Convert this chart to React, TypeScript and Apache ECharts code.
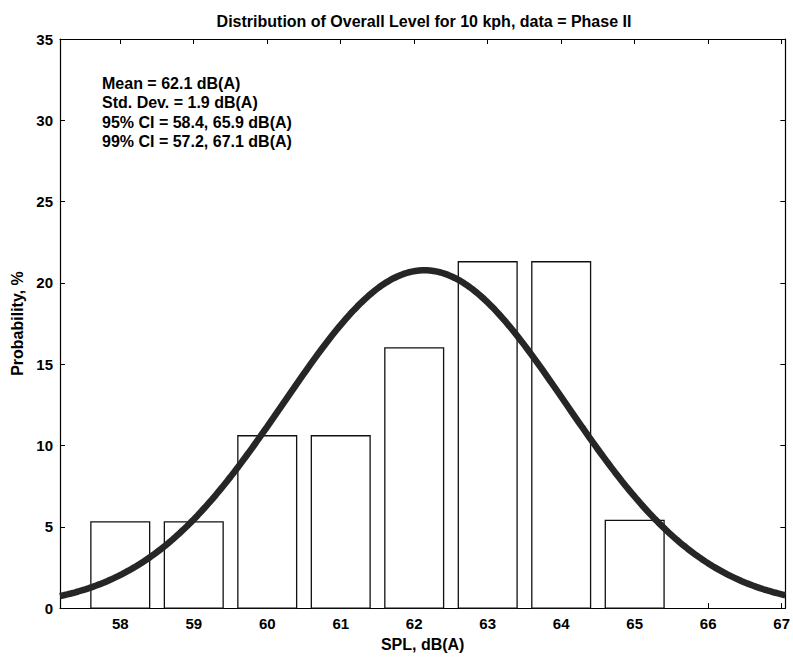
import React, { useEffect, useRef } from "react";
import * as echarts from "echarts";

// Histogram of SPL readings (bin centres, dB(A)) and their share of samples (%)
const binCenters = [58, 59, 60, 61, 62, 63, 64, 65];
const probabilities = [5.3, 5.3, 10.6, 10.6, 16.0, 21.3, 21.3, 5.4];
const barWidthUnits = 0.8;

// Fitted normal distribution parameters, dB(A)
const MEAN = 62.14;
const STD = 1.92;

const xTicks = [58, 59, 60, 61, 62, 63, 64, 65, 66, 67];
const yTicks = [0, 5, 10, 15, 20, 25, 30, 35];
const X_MIN = 57.18;
const X_MAX = 67.05;

const FONT = "'Liberation Sans', Arial, Helvetica, sans-serif";

function fitCurve(): number[][] {
  // Normal pdf scaled to percent per 1 dB bin
  const pts: number[][] = [];
  const n = 200;
  for (let i = 0; i <= n; i++) {
    const x = X_MIN + ((X_MAX - X_MIN) * i) / n;
    const z = (x - MEAN) / STD;
    const y = (100 / (STD * Math.sqrt(2 * Math.PI))) * Math.exp(-0.5 * z * z);
    pts.push([x, y]);
  }
  return pts;
}

export default function App() {
  const ref = useRef<HTMLDivElement>(null);

  useEffect(() => {
    if (!ref.current) return;
    const chart = echarts.init(ref.current, null, { renderer: "svg" });

    const ci95 = [MEAN - 1.96 * STD, MEAN + 1.96 * STD];
    const ci99 = [MEAN - 2.576 * STD, MEAN + 2.576 * STD];
    const statLines = [
      `Mean = ${MEAN.toFixed(1)} dB(A)`,
      `Std. Dev. = ${STD.toFixed(1)} dB(A)`,
      `95% CI = ${ci95[0].toFixed(1)}, ${ci95[1].toFixed(1)} dB(A)`,
      `99% CI = ${ci99[0].toFixed(1)}, ${ci99[1].toFixed(1)} dB(A)`,
    ];

    const axisLine = { show: true, onZero: false, lineStyle: { color: "#000", width: 1.2 } };
    const tickStyle = { show: true, inside: true, length: 5, lineStyle: { color: "#000", width: 1 } };
    const labelStyle = { color: "#000", fontFamily: FONT, fontSize: 15, fontWeight: "bold" as const };
    const nameStyle = { ...labelStyle, fontSize: 16 };

    chart.setOption({
      animation: false,
      backgroundColor: "#fff",
      grid: { left: 60, top: 39, width: 730, height: 574, containLabel: false },
      xAxis: [
        {
          type: "value",
          position: "bottom",
          min: X_MIN,
          max: X_MAX,
          splitLine: { show: false },
          axisLine,
          axisTick: { ...tickStyle, customValues: xTicks },
          axisLabel: {
            ...labelStyle,
            margin: 8,
            customValues: xTicks,
            formatter: (v: number) => String(Math.round(v)),
          },
          name: "SPL, dB(A)",
          nameLocation: "middle",
          nameGap: 27,
          nameTextStyle: nameStyle,
        },
        {
          type: "value",
          position: "top",
          min: X_MIN,
          max: X_MAX,
          splitLine: { show: false },
          axisLine,
          axisTick: { ...tickStyle, customValues: xTicks },
          axisLabel: { show: false },
        },
      ],
      yAxis: [
        {
          type: "value",
          position: "left",
          min: 0,
          max: 35,
          interval: 5,
          splitLine: { show: false },
          axisLine,
          axisTick: { ...tickStyle, customValues: yTicks },
          axisLabel: { ...labelStyle, margin: 7 },
          name: "Probability, %",
          nameLocation: "middle",
          nameGap: 34,
          nameRotate: 90,
          nameTextStyle: nameStyle,
        },
        {
          type: "value",
          position: "right",
          min: 0,
          max: 35,
          interval: 5,
          splitLine: { show: false },
          axisLine,
          axisTick: { ...tickStyle, customValues: yTicks },
          axisLabel: { show: false },
        },
      ],
      graphic: [
        {
          type: "text",
          style: {
            text: "Distribution of Overall Level for 10 kph, data = Phase II",
            x: 424,
            y: 21,
            align: "center",
            verticalAlign: "middle",
            font: `bold 16px ${FONT}`,
            fill: "#000",
          },
        },
        ...statLines.map((t, i) => ({
          type: "text",
          style: {
            text: t,
            x: 102,
            y: 83 + i * 19.6,
            align: "left",
            verticalAlign: "middle",
            font: `bold 16px ${FONT}`,
            fill: "#000",
          },
        })),
      ],
      series: [
        {
          type: "custom",
          xAxisIndex: 0,
          yAxisIndex: 0,
          data: binCenters.map((c, i) => [c, probabilities[i]]),
          renderItem: (_params: any, api: any) => {
            const c = api.value(0);
            const v = api.value(1);
            const p0 = api.coord([c - barWidthUnits / 2, v]);
            const p1 = api.coord([c + barWidthUnits / 2, 0]);
            return {
              type: "rect",
              shape: { x: p0[0], y: p0[1], width: p1[0] - p0[0], height: p1[1] - p0[1] },
              style: { fill: "#fff", stroke: "#111", lineWidth: 1.3 },
            };
          },
          z: 2,
        },
        {
          type: "line",
          xAxisIndex: 0,
          yAxisIndex: 0,
          data: fitCurve(),
          showSymbol: false,
          symbol: "none",
          lineStyle: { color: "#262626", width: 6.5 },
          z: 3,
        },
      ],
    });

    return () => chart.dispose();
  }, []);

  return (
    <div
      ref={ref}
      style={{ position: "absolute", left: 0, top: 0, width: 793, height: 657 }}
    />
  );
}
